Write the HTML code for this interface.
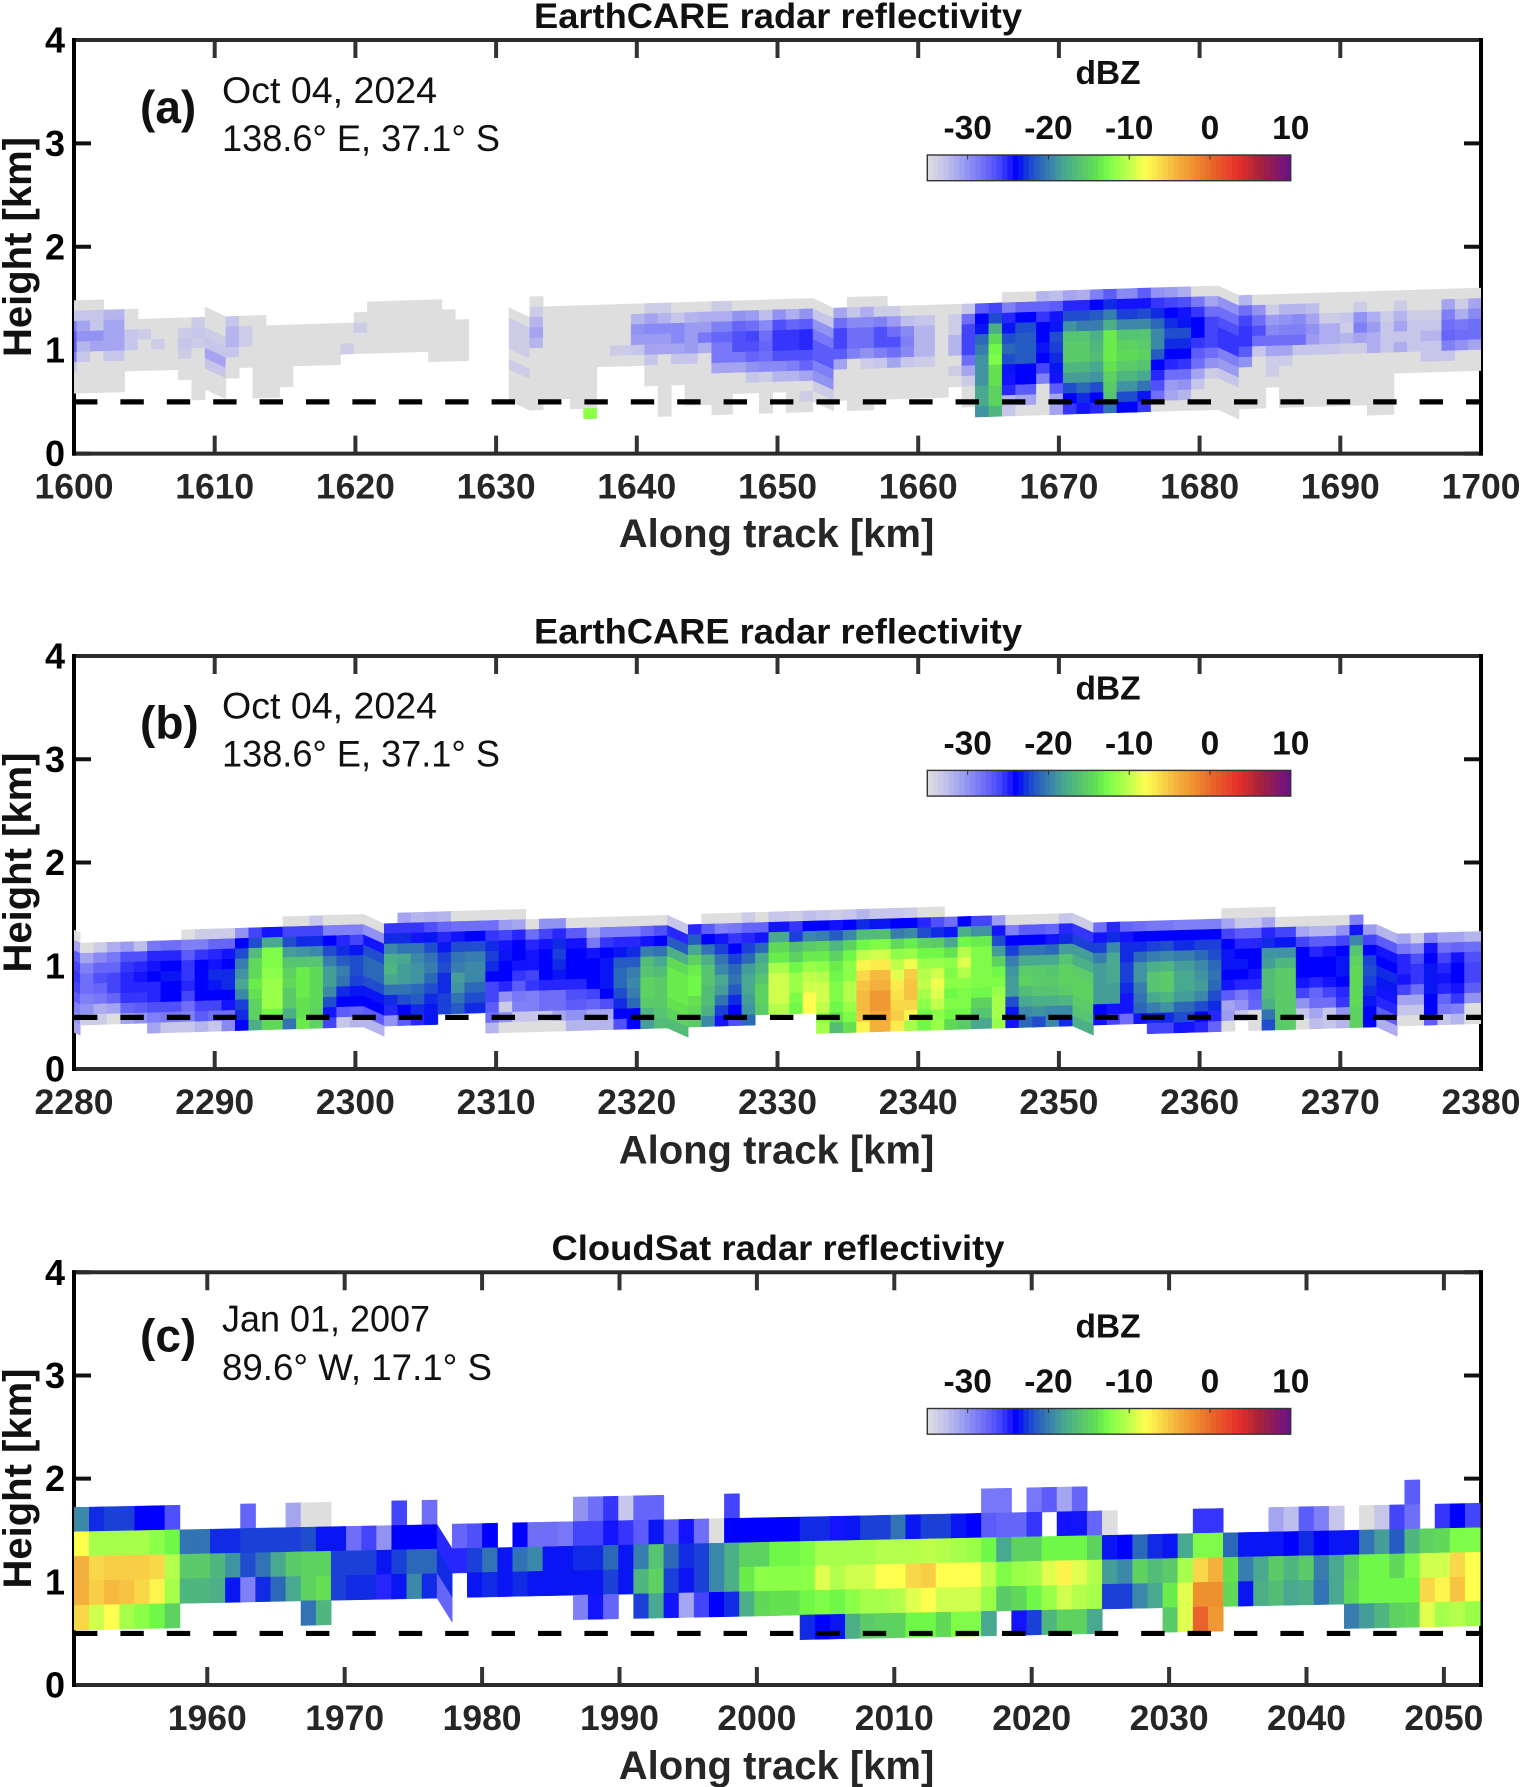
<!DOCTYPE html>
<html lang="en">
<head>
<meta charset="utf-8">
<title>Radar reflectivity cross-sections</title>
<style>
html,body{margin:0;padding:0;background:#fff;}
svg{display:block;font-family:"Liberation Sans",Arial,sans-serif;}
.title{font-size:35.5px;font-weight:bold;fill:#111;text-anchor:middle;}
.xlab{font-size:40px;font-weight:bold;fill:#262626;text-anchor:middle;}
.ylab{font-size:40px;font-weight:bold;fill:#111;text-anchor:middle;}
.tag{font-size:46px;font-weight:bold;fill:#111;}
.note{font-size:37px;fill:#111;}
.cbt{font-size:33.5px;font-weight:bold;fill:#111;text-anchor:middle;}
</style>
</head>
<body>
<svg id="fig" xmlns="http://www.w3.org/2000/svg" width="1521" height="1787" viewBox="0 0 1521 1787">
  <rect x="0" y="0" width="1521" height="1787" fill="#fff"/>

  <text class="title" x="778" y="28" textLength="488" lengthAdjust="spacingAndGlyphs">EarthCARE radar reflectivity</text>
  <text class="title" x="778" y="643.4" textLength="488" lengthAdjust="spacingAndGlyphs">EarthCARE radar reflectivity</text>
  <text class="title" x="778" y="1260" textLength="453" lengthAdjust="spacingAndGlyphs">CloudSat radar reflectivity</text>

  <text class="xlab" x="776.5" y="547">Along track [km]</text>
  <text class="xlab" x="776.5" y="1163.4">Along track [km]</text>
  <text class="xlab" x="776.5" y="1779">Along track [km]</text>

  <text class="ylab" transform="translate(31,247) rotate(-90)">Height [km]</text>
  <text class="ylab" transform="translate(31,862.5) rotate(-90)">Height [km]</text>
  <text class="ylab" transform="translate(31,1478.5) rotate(-90)">Height [km]</text>

  <text class="tag" x="140" y="123">(a)</text>
  <text class="note" x="222" y="103" textLength="215" lengthAdjust="spacingAndGlyphs">Oct 04, 2024</text>
  <text class="note" x="222" y="151" textLength="278" lengthAdjust="spacingAndGlyphs">138.6° E, 37.1° S</text>

  <text class="tag" x="140" y="738.4">(b)</text>
  <text class="note" x="222" y="718.4" textLength="215" lengthAdjust="spacingAndGlyphs">Oct 04, 2024</text>
  <text class="note" x="222" y="766.4" textLength="278" lengthAdjust="spacingAndGlyphs">138.6° E, 37.1° S</text>

  <text class="tag" x="140" y="1351.7">(c)</text>
  <text class="note" x="222" y="1331.7" textLength="208" lengthAdjust="spacingAndGlyphs">Jan 01, 2007</text>
  <text class="note" x="222" y="1380" textLength="270" lengthAdjust="spacingAndGlyphs">89.6° W, 17.1° S</text>
</svg>

<script>
const _ = null;

/* ---------- shared axis / legend values ---------- */
const heightTicks = [0, 1, 2, 3, 4];
const colorbarTicks = [-30, -20, -10, 0, 10];
const dashHeightKm = [0.5];
const colormapStops = [-35,-33,-31,-29,-27,-26,-25,-24,-22.5,-21,-19.5,-18,-16,-14,-13,-12,-10,-8,-6,-4,-2,0,3.5,6,10];
const colormapColors = ['#dedede','#c6c6ea','#a4a4f0','#8080f6','#5c5cfa','#4444fb','#2626fd','#0000ff','#1a40d8','#2c68b8','#3c88a8','#48a890','#56c470','#64e050','#70f848','#8cff48','#c0ff4c','#ffff50','#f8d848','#f4b03c','#ee9030','#e86a2c','#e8302a','#a82438','#6a1088'];

/* ---------- panel (a) ---------- */
const panelATicks = [1600,1610,1620,1630,1640,1650,1660,1670,1680,1690,1700];
const panelAJumpColumns = [10,31,52,80];
const panelAWideColumns = [3,10,17,24,31,38,45,52,59,66,73,80,87,94];
/* each column lists dBZ from the highest range bin down to the lowest */
const panelAReflectivity = [
[_,-35,-33,-29,-27,-27,-29,-33,-35,-35,_,_],
[_,-35,-33,-31,-30,-32,-33,-35,-35,-35,_,_],
[_,-35,-33,-33,-30,-31,-35,-35,-35,-35,_,_],
[_,_,-32,-31,-31,-31,-33,-35,-35,-35,_,_],
[_,_,-35,-35,-33,-33,-35,-35,_,_,_,_],
[_,_,_,-35,-33.5,-35,-35,-35,_,_,_,_],
[_,_,_,-35,-35,-33.5,-35,-35,_,_,_,_],
[_,_,_,-35,-35,-35,-35,-35,_,_,_,_],
[_,_,_,-35,-33.5,-33,-33.5,-35,-35,_,_,_],
[_,_,_,-33.5,-33,-33.5,-35,-35,-35,-35,-35,_],
[_,_,-35,-35,-33.5,-33,-31,-33,-35,-35,_,_],
[_,_,-33,-32,-32,-33,-35,-35,_,_,_,_],
[_,_,-35,-33.5,-33.5,-35,-35,_,_,_,_,_],
[_,_,-35,-35,-35,-35,-35,-35,-35,-35,_,_],
[_,_,_,-35,-35,-35,-35,-35,-35,-35,_,_],
[_,_,_,-35,-35,-35,-35,-35,-35,_,_,_],
[_,_,_,-35,-35,-35,-35,_,_,_,_,_],
[_,_,_,-35,-35,-35,-35,_,_,_,_,_],
[_,_,_,-35,-35,-35,-35,_,_,_,_,_],
[_,_,_,-35,-35,-33.5,_,_,_,_,_,_],
[_,_,-35,-33.5,-35,-35,_,_,_,_,_,_],
[_,-35,-35,-35,-35,-35,_,_,_,_,_,_],
[_,-35,-35,-35,-35,-35,_,_,_,_,_,_],
[_,-35,-35,-35,-35,-35,_,_,_,_,_,_],
[_,-35,-35,-35,-35,-35,_,_,_,_,_,_],
[_,-35,-35,-35,-35,-35,-35,_,_,_,_,_],
[_,_,-35,-35,-35,-35,-35,_,_,_,_,_],
[_,_,_,-35,-35,-35,-35,_,_,_,_,_],
[_,_,_,_,_,_,_,_,_,_,_,_],
[_,_,_,_,_,_,_,_,_,_,_,_],
[_,_,_,_,_,_,_,_,_,_,_,_],
[_,_,-35,-33.5,-33.5,-33.5,-35,-33.5,-35,-35,-35,_],
[-35,-33.5,-32,-31,-32,-35,-35,-35,-35,-35,-35,_],
[_,-35,-35,-35,-35,-35,-35,-35,-35,-35,_,_],
[_,-35,-35,-35,-35,-35,-35,-35,-35,-35,_,_],
[_,-35,-35,-35,-35,-35,-35,-35,-35,-35,-35,_],
[_,-35,-35,-35,-35,-35,-35,-35,-35,-35,-35,-12],
[_,-35,-35,-35,-35,-35,-35,_,_,_,_,_],
[_,-35,-35,-35,-35,-33.5,-35,_,_,_,_,_],
[_,-35,-32,-30,-30.5,-33,-35,_,_,_,_,_],
[_,-33.5,-31,-29.5,-30.5,-31,-33,-35,-35,_,_,_],
[_,-33.5,-32,-29.5,-30.5,-31,-35,-35,-35,-35,-35,-35],
[_,-35,-33,-29.5,-29.5,-31,-33,-35,-35,_,_,_],
[_,-35,-32,-30.5,-30.5,-30.5,-33,-35,-35,-35,-35,_],
[_,-35,-31.5,-30.5,-28.5,-31.5,-35,-35,-35,-35,-35,_],
[_,-33.5,-31.5,-29,-27.5,-28.5,-28.5,-31,-35,-35,-35,-35],
[_,-35,-30,-27.5,-26.5,-26.5,-28.5,-31,-35,-35,_,_],
[_,-35,-30.5,-28,-26,-26.5,-27.5,-30,-33,-35,_,_],
[_,-35,-32.5,-29.5,-28,-27.5,-28,-29.5,-33.5,-35,-35,-35],
[_,-35,-30,-26.5,-25.5,-25.5,-26.5,-29.5,-32,-35,_,_],
[_,-35,-31.5,-27.5,-25.5,-25.5,-26.5,-29,-32,-35,-35,-35],
[_,-35,-30,-27,-25,-25,-26.5,-27.5,-31,-35,-33.5,-35],
[_,-35,-33,-30,-28.5,-27,-27,-29,-30,-33.5,-35,_],
[_,-31,-28,-26,-26,-27,-31,-35,-35,-35,_,_],
[-35,-33,-29.5,-28,-28,-29,-35,-35,-35,-35,-35,_],
[-35,-31.5,-29.5,-28,-28,-30,-33.5,-35,-35,-35,-35,_],
[-35,-33.5,-29,-26.5,-26.5,-29,-33,-35,-35,-35,_,_],
[_,-33.5,-30.5,-28,-26.5,-28,-31,-35,-35,-35,_,_],
[_,-35,-32.5,-29.5,-29,-29.5,-33,-35,-35,-35,_,_],
[_,-35,-33,-32,-32,-32,-33.5,-35,-35,-35,_,_],
[_,-35,-35,-35,-35,-35,-35,-35,-35,-35,_,_],
[_,-35,-33.5,-33.5,-32,-32,-35,-33.5,-35,_,_,_],
[_,-33,-28,-26,-26,-26,-28,-31,-33.5,-35,-35,_],
[_,-27,-24,-23.5,-21,-20,-19,-19,-19,-18,-18,-19],
[_,-26,-22,-17.5,-14.5,-13,-12.5,-14,-14,-15,-15,-17],
[-35,-29,-25,-23.5,-22,-21,-22,-23.5,-24.5,-25,-32,-33],
[-35,-27.5,-24,-22,-21.5,-21.5,-21.5,-24,-24,-27,-31,-35],
[-32,-27.5,-25.5,-24,-24,-23.5,-24,-26,-29,-35,-35,-35],
[-32.5,-27,-24.5,-23.5,-22,-22.5,-23,-23.5,-24.5,-27,-31,-31],
[-31,-25,-22,-19,-16,-15.5,-15.5,-17,-18.5,-22,-24,-25.5],
[-31.5,-25,-22,-20,-16,-15.5,-15.5,-17,-18.5,-21,-23,-24.5],
[-29,-24,-21.5,-20,-17.5,-17,-16.5,-18,-19,-22,-24,-25],
[-27,-23,-20,-17.5,-13.5,-13.5,-13.5,-14,-15,-15.5,-16,-20.5],
[-29.5,-24.5,-22.5,-19.5,-16,-15,-14.5,-15.5,-17,-19,-22,-24],
[-27,-24.5,-22,-19.5,-16,-15.5,-15,-16,-18,-20.5,-23.5,-25.5],
[-30,-25.5,-23,-21,-19.5,-19.5,-21.5,-24,-25,-26.5,-28,-35],
[-30.5,-26,-24,-23,-22,-23,-24,-25,-28,-30.5,-31,-35],
[-31.5,-26.5,-24.5,-23.5,-22,-23,-24,-25.5,-28,-30,-32,-35],
[-35,-28.5,-25.5,-24,-24,-25.5,-27,-28,-31,-33,-35,-35],
[-35,-31,-28,-26,-26,-26,-28,-30,-33.5,-35,-35,-35],
[-35,-30,-28,-26.5,-25.5,-25.5,-29,-30.5,-33,-35,-35,-35],
[-32,-28,-26,-25.5,-25.5,-27,-30,-35,-35,-35,-35,_],
[-35,-30,-28,-26.5,-28,-33,-35,-35,-35,-35,-35,_],
[-35,-33.5,-30.5,-29.5,-28,-31,-33.5,-33.5,-35,_,_,_],
[-35,-32,-30,-29,-28,-31,-33.5,-35,-35,-35,-35,_],
[-35,-32,-29.5,-29,-28,-33,-35,-35,-35,-35,-35,_],
[-35,-32.5,-31,-30,-30.5,-33,-35,-35,-35,-35,-35,_],
[-35,-35,-33.5,-31.5,-31.5,-33,-35,-35,-35,-35,-35,_],
[-35,-35,-33,-33.5,-32,-33.5,-35,-35,-35,-35,-35,_],
[-35,-33.5,-30,-29,-31,-33.5,-35,-35,-35,-35,-35,_],
[-35,-35,-31.5,-30.5,-31.5,-31.5,-35,-35,-35,-35,-35,-35],
[-35,-35,-33.5,-33,-33,-33,-35,-35,-35,-35,-35,-35],
[-35,-33.5,-32,-31,-33,-31.5,-35,-35,_,_,_,_],
[-35,-35,-33.5,-33,-33,-33,-35,-35,_,_,_,_],
[-35,-35,-33.5,-33,-32,-33,-33,-35,_,_,_,_],
[-35,-31,-29,-28,-27.5,-29,-33,-35,_,_,_,_],
[-35,-33.5,-31.5,-28.5,-28,-30,-35,-35,_,_,_,_],
[-35,-31,-29.5,-28,-28,-31,-35,-35,_,_,_,_]
];

/* ---------- panel (b) ---------- */
const panelBTicks = [2280,2290,2300,2310,2320,2330,2340,2350,2360,2370,2380];
const panelBJumpColumns = [0,21,42,70,91];
const panelBWideColumns = [0,7,14,21,28,35,42,49,56,63,70,77,84,91,98];
const panelBReflectivity = [
[_,_,-35,-31,-27,-26,-25.5,-26,-27,-29,-30,-31],
[_,_,_,-35,-31,-29,-28,-28,-29,-30,-33.5,_],
[_,_,_,-33.5,-29.5,-27.5,-26.5,-27.5,-28.5,-31.5,-33.5,_],
[_,_,_,-31.5,-28.5,-27.5,-26,-26,-27.5,-31,-35,_],
[_,_,_,-30.5,-26.5,-25.5,-25,-25,-25.5,-27.5,-31,_],
[_,_,_,-32.5,-26.5,-25,-24.5,-25,-25.5,-27,-30,_],
[_,_,_,-28.5,-25,-24.5,-24,-25,-25,-26.5,-29,-31],
[_,_,_,-28,-25,-24,-23.5,-24,-24,-26.5,-28.5,-33],
[_,_,-35,-29,-27,-25.5,-25.5,-25,-26,-28,-29,-33],
[_,_,-33.5,-29,-25.5,-24,-24,-24,-24,-26,-27,-32],
[_,_,-33.5,-27.5,-25,-24.5,-23,-23.5,-24,-26,-28,-33],
[_,_,-33.5,-27.5,-24.5,-24,-23,-23,-24,-24.5,-28,-29.5],
[_,_,-30,-24,-22,-20,-19,-18,-19.5,-22.5,-23,-24],
[_,_,-26,-22,-16.5,-14.5,-14.5,-13.5,-14,-15,-15,-17.5],
[_,_,-24.5,-18,-12.5,-12.5,-12,-11.5,-11.5,-11.5,-13,-14.5],
[_,-35,-26,-22,-18.5,-16,-15,-14.5,-15.5,-15.5,-17.5,-20.5],
[_,-35,-26,-23,-19,-16,-13.5,-13.5,-13.5,-14,-14,-13.5],
[_,-33,-26,-23,-19.5,-16,-14.5,-14.5,-14.5,-14.5,-15,-15],
[_,-35,-29,-24,-22,-20,-18.5,-18.5,-19.5,-22,-24.5,-26],
[_,-35,-29,-25,-23,-21.5,-20,-20.5,-23,-24,-27,-33],
[_,-35,-29,-26,-23.5,-22,-22,-22.5,-23.5,-24,-27.5,-32],
[_,-35,-30,-24.5,-22,-21,-21,-22,-23.5,-24,-27,-32],
[_,-25.5,-23,-19.5,-17.5,-17,-18,-20.5,-23,-25,-30,_],
[-31,-25.5,-23,-20.5,-18,-18.5,-18.5,-20.5,-22,-24,-27,_],
[-32,-25.5,-24.5,-20.5,-19.5,-19,-19,-21,-21.5,-23,-25,_],
[-31.5,-26.5,-23.5,-22,-20.5,-20,-21,-22,-23,-23.5,-23.5,_],
[-32,-27.5,-25,-23.5,-22.5,-22,-23,-23,-22.5,-22.5,_,_],
[-35,-28,-24.5,-22,-20.5,-20,-18.5,-19,-20.5,-21.5,_,_],
[-35,-28,-24,-22,-20,-19.5,-19.5,-21,-22,-23,_,_],
[-35,-28,-25.5,-23,-22.5,-23,-24,-26,-26,-27,-28,-32],
[-35,-30.5,-26,-24.5,-23.5,-24,-24,-25,-30,-33.5,-30,-35],
[-35,-31,-25,-24,-24,-24.5,-25.5,-27,-28.5,-29,-33,-35],
[_,-35,-28,-25,-24.5,-24.5,-26,-25.5,-29,-29,-33,-35],
[_,-30,-26,-24.5,-24,-24,-24,-25,-28,-28,-33,-35],
[_,-30,-25,-23,-22.5,-23,-23.5,-25,-28,-28,-31,-35],
[_,-35,-27,-24.5,-24,-24,-24,-25,-26.5,-27,-30,-32],
[_,-35,-31,-28.5,-24.5,-24,-24,-24,-26,-27.5,-31,-32],
[_,-35,-29,-25.5,-24,-23.5,-23.5,-23.5,-24,-26.5,-31,-32],
[_,-35,-29,-25,-23.5,-21.5,-21,-21,-22,-23,-24,-26.5],
[_,-35,-29,-25,-23,-21.5,-20,-19.5,-20,-21,-24,-24],
[_,-35,-27.5,-24.5,-20,-16.5,-16,-15,-15,-15.5,-17,-18.5],
[_,-35,-26.5,-24,-20.5,-18,-16.5,-15.5,-15.5,-15.5,-16,-16.5],
[_,-33,-25,-21.5,-17.5,-14.5,-13.5,-13.5,-13.5,-14,-15,-16.5],
[_,-25,-21.5,-18,-15,-13.5,-13,-13,-14,-14.5,-15.5,_],
[-35,-27,-24,-20.5,-17.5,-16,-16,-16.5,-16.5,-17.5,-19.5,_],
[-35,-29,-24.5,-22.5,-20.5,-19.5,-18,-18.5,-20.5,-22.5,-24.5,_],
[-35,-28.5,-25.5,-24,-22.5,-21,-20.5,-21.5,-23,-24,-26.5,_],
[-33.5,-27.5,-25,-22.5,-21,-18.5,-18,-18,-18.5,-19,-21,_],
[-35,-27.5,-24.5,-21,-18,-17,-16,-15,-15,-15.5,_,_],
[-33,-24.5,-18,-14.5,-13.5,-11,-9.5,-9.5,-9.5,-10.5,_,_],
[-33.5,-25.5,-22.5,-16.5,-15,-13,-11.5,-11.5,-12.5,-13,_,_],
[-32.5,-24,-19.5,-15.5,-13.5,-11.5,-10,-9.5,-8,-8,_,_],
[-33,-24,-20,-15,-13.5,-12,-10.5,-9.5,-9.5,-10,-12,-11],
[-33.5,-24.5,-21.5,-17,-15,-13.5,-13,-12.5,-12.5,-13,-14,-16.5],
[-33,-24,-19.5,-15,-13,-12,-12,-10.5,-10.5,-11.5,-12.5,-14],
[-32,-23,-16.5,-13,-10,-7.5,-6,-5,-4.5,-4.5,-5,-7.5],
[-33,-23.5,-16.5,-12.5,-9.5,-7,-4.5,-4,-2.5,-2.5,-3.5,-4],
[-33,-24,-20,-14.5,-12,-10,-9,-7,-6.5,-6,-5.5,-7],
[-33.5,-24,-19.5,-13.5,-11.5,-8.5,-5.5,-5,-5,-6,-7.5,-11],
[-35,-25,-22,-15,-13,-11.5,-10.5,-10,-11,-12,-13,-13],
[-35,-26.5,-23,-15.5,-13,-11.5,-9.5,-8.5,-9,-10,-12,-11.5],
[_,-28,-23.5,-18,-14,-12,-12.5,-12,-13,-12.5,-13,-14.5],
[_,-24,-17.5,-13,-10.5,-9,-10.5,-12,-12.5,-12.5,-13,-15.5],
[_,-26,-19,-13.5,-12.5,-12.5,-12.5,-12.5,-13,-15,-16,-18],
[_,-30.5,-24.5,-22,-18.5,-15,-13,-12.5,-11.5,-11,-11,-11.5],
[_,-35,-29,-24,-22.5,-20,-19,-18.5,-18.5,-22,-23.5,-24.5],
[_,-35,-27,-24,-20.5,-18,-15.5,-15,-16.5,-18,-19.5,-21],
[_,-35,-27,-24,-20.5,-18,-15.5,-15.5,-16,-17.5,-19,-22],
[_,-35,-27.5,-24.5,-21,-18,-16,-15.5,-16,-17.5,-19.5,-19.5],
[_,-33,-25,-23,-18.5,-16,-15,-15,-15.5,-17,-19.5,-23],
[_,-33.5,-25.5,-22.5,-18.5,-17.5,-15.5,-15,-15,-15.5,-16,-17.5],
[_,-28,-24.5,-22.5,-20,-18.5,-18.5,-18.5,-18.5,-24,-24.5,_],
[_,-25,-23,-19.5,-18,-18,-18,-18.5,-18.5,-24.5,-26,_],
[_,-27.5,-24.5,-23,-23,-22.5,-22.5,-23,-24.5,-24.5,-28,_],
[_,-28,-24,-23,-21,-19,-19,-20,-20.5,-21,-24.5,_],
[_,-28.5,-24,-22.5,-20,-17.5,-16,-16,-18,-20,-23,-26],
[_,-28.5,-24,-22,-19.5,-17,-15.5,-15.5,-17,-19,-23,-26],
[_,-29,-24,-23,-20,-18.5,-18,-18,-18.5,-21,-22,-24.5],
[_,-29,-24,-22.5,-21,-19.5,-19,-18.5,-19.5,-22,-24,-25],
[_,-29,-24,-22.5,-22,-21,-20.5,-21,-22,-23,-25,-27.5],
[-35,-31,-26,-24,-23.5,-23.5,-24,-24.5,-27,-31,-30.5,-35],
[-35,-33,-27,-25,-24,-23.5,-24,-25,-28.5,-30,-33,_],
[-35,-33,-27,-25,-24,-24,-24.5,-25,-27,-27.5,-35,-35],
[-35,-31,-25,-23,-19,-18.5,-16.5,-16.5,-16.5,-17.5,-20.5,-22],
[_,-35,-26,-23.5,-19,-17,-15.5,-15.5,-15.5,-15.5,-15.5,-15.5],
[_,-35,-31,-26,-24,-24,-24,-24.5,-26,-30,-33,-35],
[_,-35,-32,-27,-25,-24,-24,-25,-27.5,-28,-31,-32.5],
[_,-35,-32,-27,-24.5,-24,-24,-24.5,-26,-28,-33,-33],
[_,-35,-30,-26,-24,-23.5,-23.5,-24,-25,-25.5,-30,-32],
[_,-29,-24.5,-19.5,-16,-15,-14.5,-14.5,-14.5,-14.5,-15,-15],
[_,_,-30.5,-26,-24,-22.5,-22,-22.5,-23,-23.5,-24,-24],
[_,_,-32,-27,-24.5,-24,-23,-23.5,-24.5,-25,-27,-31.5],
[_,_,-31,-28.5,-25,-25,-24.5,-26,-31,-33,-35,_],
[_,_,-33.5,-29.5,-26.5,-25.5,-25.5,-28,-31,-33,-35,_],
[_,_,-29,-24.5,-24,-23.5,-23.5,-23.5,-24,-24,-27,_],
[_,_,-31,-28,-26,-25,-24.5,-25,-27.5,-28.5,-33,_],
[_,_,-31,-27.5,-24.5,-24,-24,-24.5,-25.5,-29,-32,_],
[_,_,-32,-28,-26.5,-26,-26,-27,-30,-35,-35,_],
[_,_,-32,-28,-26.5,-26,-26,-27,-30,-35,-35,_]
];

/* ---------- panel (c) ---------- */
const panelCTicks = [1960,1970,1980,1990,2000,2010,2020,2030,2040,2050];
const panelCJumpColumns = [24];
const panelCWideColumns = [];
const panelCReflectivity = [
[_,-19.5,-8,-4,-4,-6],
[_,-23,-11,-6,-5.5,-9.5],
[_,-22.5,-11,-5.5,-4.5,-8],
[_,-22.5,-11,-5.5,-5,-11],
[_,-24,-11,-5.5,-6,-12],
[_,-24,-12,-6,-7.5,-13],
[_,-26.5,-13,-10.5,-11,-15],
[_,_,-20.5,-15.5,-17,_],
[_,_,-20.5,-15.5,-17,_],
[_,_,-23,-17,-17.5,_],
[_,_,-23,-19,-23.5,_],
[_,-27.5,-22.5,-22,-29,_],
[_,_,-22.5,-20.5,-23,_],
[_,_,-22.5,-18,-21,_],
[_,-31,-22.5,-15.5,-18,_],
[_,-35,-22,-15,-15,-20.5],
[_,-35,-23.5,-15,-14,-17],
[_,_,-23.5,-22.5,-22.5,_],
[_,_,-28,-22.5,-23,_],
[_,_,-26,-22.5,-23,_],
[_,_,-30,-23.5,-25,_],
[_,-26,-24,-22.5,-23.5,_],
[_,_,-24,-21,-19.5,_],
[_,-28,-24,-21,-23,_],
[_,_,-25,-23,-27.5,_],
[_,-27.5,-25,_,_,_],
[_,-26.5,-22.5,-23.5,_,_],
[_,-24,-20.5,-23,_,_],
[_,_,-23.5,-23.5,_,_],
[_,-24,-20.5,-23,_,_],
[_,-28,-19.5,-23.5,_,_],
[_,-28,-23.5,-23.5,_,_],
[_,-28.5,-23.5,-23.5,_,_],
[-30,-26,-23,-23.5,-29,_],
[-28,-26,-23,-23.5,-24.5,_],
[-25.5,-24.5,-21,-22.5,-27.5,_],
[-33,-25.5,-23.5,-23.5,_,_],
[-27.5,-27,-20,-17,-22.5,_],
[-27.5,-23.5,-16,-15,-18,_],
[_,-27,-21,-22.5,-24.5,_],
[_,-24.5,-23,-23.5,-31,_],
[_,-28,-22.5,-22.5,-26,_],
[_,-35,-19.5,-19.5,-24,_],
[-26,-24,-17.5,-17.5,-23,_],
[_,-24,-15,-13.5,-17.5,_],
[_,-24,-15,-12,-14.5,_],
[_,-24,-13,-12,-14,_],
[_,-24,-13,-12,-14,_],
[_,-23,-12.5,-12,-13,-23],
[_,-23,-11,-9,-12.5,-24],
[_,-24.5,-11,-10.5,-13,-23.5],
[_,-23.5,-11,-9.5,-12,-17.5],
[_,-22.5,-11,-9.5,-11,-15.5],
[_,-22.5,-10.5,-8,-11,-15],
[_,-20.5,-10.5,-8,-10.5,-15],
[_,-23.5,-10.5,-6,-9,-13],
[_,-22.5,-10,-5.5,-8,-13],
[_,-22.5,-10.5,-8,-9.5,-14.5],
[_,-23.5,-11,-8,-9.5,-12.5],
[_,-24,-11.5,-8,-9.5,-12.5],
[-28.5,-27,-13,-10,-11.5,-18],
[-28.5,-27.5,-18,-12.5,-15.5,_],
[_,-27.5,-15,-11.5,-14.5,-24.5],
[-28.5,-25.5,-15,-11,-13,-22.5],
[-27,_,-13,-9,-11.5,-17],
[-31,-24.5,-13,-7.5,-9.5,-15],
[-27.5,-24.5,-13,-9,-10.5,-15],
[_,-27.5,-15,-10.5,-11,-18],
[_,-35,-23.5,-18.5,-22.5,_],
[_,_,-24,-19.5,-22.5,_],
[_,_,-21,-15,-19.5,_],
[_,_,-23,-16.5,-18,_],
[_,_,-23.5,-15.5,-13.5,-15.5],
[_,_,-18,-11,-9,-9],
[_,-25.5,-12.5,-6,-2,0.5],
[_,-25.5,-12.5,-4,-2,-2.5],
[_,_,-21,-14,-14.5,_],
[_,_,-23.5,-20,-23.5,_],
[_,_,-23.5,-18,-17.5,_],
[_,-31,-23.5,-15.5,-16.5,_],
[_,-32.5,-24,-17,-18,_],
[_,-27,-23,-15.5,-17.5,_],
[_,-29,-24,-20,-20.5,_],
[_,-33,-23.5,-18,-18,_],
[_,_,-23.5,-15,-14.5,-20],
[_,-35,-20.5,-13,-13,-18.5],
[_,-33,-18.5,-13,-13,-17],
[_,-26,-21.5,-14.5,-13,-15],
[-27,-28,-17,-12.5,-13,-14.5],
[_,_,-15,-9.5,-6,-9],
[_,-25.5,-14.5,-9.5,-7.5,-11],
[_,-24,-12.5,-6,-5,-10.5],
[_,-26,-12.5,-8,-8,-11.5]
];

/* ---------- drawing ---------- */
const fig = document.getElementById('fig');
const NS = 'http://www.w3.org/2000/svg';
const PLOT_LEFT = 74;
const PLOT_RIGHT = 1481;

function el(tag, parent, attrs) {
  const n = document.createElementNS(NS, tag);
  for (const key in attrs) n.setAttribute(key, attrs[key]);
  parent.appendChild(n);
  return n;
}
function hexToRgb(h) {
  return [parseInt(h.slice(1,3),16), parseInt(h.slice(3,5),16), parseInt(h.slice(5,7),16)];
}
function colorFor(v) {
  if (v <= colormapStops[0]) return colormapColors[0];
  const last = colormapStops.length - 1;
  if (v >= colormapStops[last]) return colormapColors[last];
  let i = 0;
  while (colormapStops[i + 1] < v) i++;
  const t = (v - colormapStops[i]) / (colormapStops[i + 1] - colormapStops[i]);
  const a = hexToRgb(colormapColors[i]);
  const b = hexToRgb(colormapColors[i + 1]);
  return 'rgb(' + [0,1,2].map(function (c) { return Math.round(a[c] + (b[c] - a[c]) * t); }).join(',') + ')';
}

function drawPanel(p) {
  const x = function (km) { return PLOT_LEFT + (km - p.xMin) / (p.xMax - p.xMin) * (PLOT_RIGHT - PLOT_LEFT); };
  const y = function (h) { return p.bottom - h / 4 * (p.bottom - p.top); };
  const g = el('g', fig, {});
  
  

  const clipId = p.id + '-clip';
  const defs = el('defs', g, {});
  const clip = el('clipPath', defs, { id: clipId });
  el('rect', clip, { x: PLOT_LEFT, y: p.top, width: PLOT_RIGHT - PLOT_LEFT, height: p.bottom - p.top });

  /* ticks and frame sit beneath the data, as in the reference */
  p.ticks.forEach(function (t) {
    [[p.bottom, p.bottom - 18], [p.top, p.top + 18]].forEach(function (yy) {
      const tk = el('line', g, { x1: x(t), x2: x(t), y1: yy[0], y2: yy[1], stroke: '#333', 'stroke-width': 4 });
      
      
    });
    const lab = el('text', g, { x: x(t), y: p.bottom + 45, 'font-size': 35.5, 'font-weight': 'bold', fill: '#262626', 'text-anchor': 'middle' });
    lab.textContent = String(t);
    
    
  });
  heightTicks.forEach(function (t) {
    [[PLOT_LEFT, PLOT_LEFT + 17], [PLOT_RIGHT, PLOT_RIGHT - 17]].forEach(function (xx) {
      const tk = el('line', g, { x1: xx[0], x2: xx[1], y1: y(t), y2: y(t), stroke: '#111', 'stroke-width': 4 });
      
      
    });
    const lab = el('text', g, { x: 65, y: y(t) + 12.5, 'font-size': 36, 'font-weight': 'bold', fill: '#000', 'text-anchor': 'end' });
    lab.textContent = String(t);
    
    
  });
  [[PLOT_LEFT - 2, p.top, PLOT_RIGHT + 2, p.top, '#2b2b2b'], [PLOT_LEFT - 2, p.bottom, PLOT_RIGHT + 2, p.bottom, '#2b2b2b'],
   [PLOT_LEFT, p.top - 2, PLOT_LEFT, p.bottom + 2, '#000'], [PLOT_RIGHT, p.top - 2, PLOT_RIGHT, p.bottom + 2, '#000']].forEach(function (f) {
    const ln = el('line', g, { x1: f[0], y1: f[1], x2: f[2], y2: f[3], stroke: f[4], 'stroke-width': 4 });
    
    
  });

  const cells = el('g', g, { 'clip-path': 'url(#' + clipId + ')' });
  
  

  /* column edges along track and the height of the lowest bin at each edge */
  const edges = [p.startKm];
  p.data.forEach(function (col, j) {
    edges.push(edges[j] + (p.wide.indexOf(j) >= 0 ? p.wideKm : p.stepKm));
  });
  const base = edges.map(function (km, j) {
    const drops = p.jumps.filter(function (c) { return c < j; }).length;
    return p.h0 + p.slope * (km - p.startKm) - p.jumpDrop * drops;
  });

  p.data.forEach(function (col, j) {
    col.forEach(function (v, idx) {
      if (v === null) return;
      const k = col.length - 1 - idx;
      const pts = [
        [x(edges[j]), y(base[j] + k * p.bin)],
        [x(edges[j + 1]), y(base[j + 1] + k * p.bin)],
        [x(edges[j + 1]), y(base[j + 1] + (k + 1) * p.bin)],
        [x(edges[j]), y(base[j] + (k + 1) * p.bin)]
      ].map(function (q) { return q[0].toFixed(1) + ',' + q[1].toFixed(1); }).join(' ');
      const c = colorFor(v);
      const cell = el('polygon', cells, { points: pts, fill: c, stroke: c, 'stroke-width': 0.5 });
      
      
    });
  });

  /* 0.5 km reference line */
  const dash = el('line', g, { x1: PLOT_LEFT, x2: PLOT_RIGHT, y1: y(dashHeightKm[0]), y2: y(dashHeightKm[0]), stroke: '#000', 'stroke-width': 5.2, 'stroke-dasharray': '23.4 23' });
  
  

  /* colorbar */
  const cb = el('g', g, {});
  
  
  const cbL = 927.3, cbR = 1290.7, cbMin = -35, cbMax = 10, levels = 68;
  const cbX = function (v) { return cbL + (v - cbMin) / (cbMax - cbMin) * (cbR - cbL); };
  for (let i = 0; i < levels; i++) {
    const v0 = cbMin + (cbMax - cbMin) * i / levels;
    const v1 = cbMin + (cbMax - cbMin) * (i + 1) / levels;
    const sw = el('rect', cb, { x: cbX(v0).toFixed(2), y: p.cbTop, width: (cbX(v1) - cbX(v0) + 0.4).toFixed(2), height: 25.7, fill: colorFor((v0 + v1) / 2) });
    
    
  }
  const box = el('rect', cb, { x: cbL, y: p.cbTop, width: cbR - cbL, height: 25.7, fill: 'none', stroke: '#333', 'stroke-width': 1.4 });
  
  
  colorbarTicks.forEach(function (t) {
    const tk = el('line', cb, { x1: cbX(t), x2: cbX(t), y1: p.cbTop, y2: p.cbTop + 4.5, stroke: '#333', 'stroke-width': 1 });
    
    
    const lab = el('text', cb, { x: cbX(t), y: p.cbTop - 16, 'class': 'cbt' });
    lab.textContent = String(t);
    
    
  });
  const unit = el('text', cb, { x: 1108, y: p.cbTop - 71, 'class': 'cbt' });
  unit.textContent = 'dBZ';
  
  
}

drawPanel({ id: 'panel-a', top: 40, bottom: 453.6, xMin: 1600, xMax: 1700, ticks: panelATicks,
  startKm: 1599.254, stepKm: 0.9538, wideKm: 1.478, wide: panelAWideColumns, jumps: panelAJumpColumns,
  h0: 0.3795, slope: 0.00421, bin: 0.0997, jumpDrop: 0.0997, data: panelAReflectivity, cbTop: 155 });

drawPanel({ id: 'panel-b', top: 656, bottom: 1069, xMin: 2280, xMax: 2380, ticks: panelBTicks,
  startKm: 2278.97, stepKm: 0.9538, wideKm: 1.478, wide: panelBWideColumns, jumps: panelBJumpColumns,
  h0: 0.417, slope: 0.00403, bin: 0.0992, jumpDrop: 0.0968, data: panelBReflectivity, cbTop: 770.4 });

drawPanel({ id: 'panel-c', top: 1272.3, bottom: 1685, xMin: 1950.3, xMax: 2052.7, ticks: panelCTicks,
  startKm: 1950.315, stepKm: 1.1004, wideKm: 1.1004, wide: panelCWideColumns, jumps: panelCJumpColumns,
  h0: 0.5324, slope: 0.00271, bin: 0.2378, jumpDrop: 0.2362, data: panelCReflectivity, cbTop: 1408.5 });
</script>
</body>
</html>
